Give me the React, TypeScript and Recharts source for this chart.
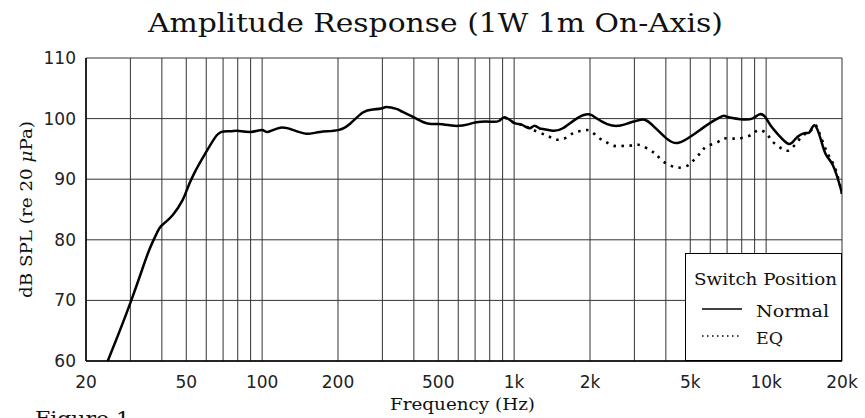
import React from 'react';
import { LineChart, Line, XAxis, YAxis, CartesianGrid, Legend, Label } from 'recharts';

// Normal switch position (Hz, dB SPL)
const NORMAL_FREQ = [
  24.4, 27, 30, 33.1, 35.7, 38.3, 40, 44.2, 48.4, 50, 53.8, 60, 64.6, 69, 75, 80, 90, 100, 105, 118,
  133, 150, 170, 200, 224, 251, 275, 300, 311, 341, 361, 400, 437, 469, 500, 555, 600, 650, 708, 800,
  870, 920, 1000, 1070, 1150, 1200, 1260, 1300, 1420, 1560, 1770, 1980, 2130, 2340, 2570, 2820, 3180,
  3480, 4030, 4490, 5000, 5500, 6000, 6700, 7000, 7900, 8800, 9400, 9900, 10400, 11200, 12300, 13100,
  14200, 14900, 15600, 16500, 17300, 18400, 19600, 20000,
];
const NORMAL_DB = [
  60, 64.6, 69.6, 74.6, 78.4, 81.2, 82.4, 84.1, 86.6, 88, 91, 94.5, 96.7, 97.8, 97.9, 98, 97.8, 98.1, 97.8, 98.5,
  98.1, 97.5, 97.8, 98.1, 99.2, 101, 101.5, 101.7, 101.9, 101.6, 101.1, 100.2, 99.4, 99.1, 99.1, 98.9, 98.8, 99, 99.4, 99.5,
  99.6, 100.2, 99.3, 99, 98.4, 98.8, 98.4, 98.3, 98, 98.4, 100, 100.7, 100, 99.1, 98.8, 99.2, 99.8,
  99.2, 96.7, 96, 97, 98.2, 99.3, 100.4, 100.3, 99.9, 100, 100.7, 100.3, 98.9, 97.3, 95.8, 96.7,
  97.6, 97.8, 98.9, 96.5, 94, 92.3, 89, 87.6,
];

// EQ switch position (same as Normal below ~1 kHz)
const EQ_FREQ = [
  920, 1000, 1070, 1150, 1260, 1380, 1490, 1620, 1730, 1870, 2000, 2160, 2320, 2500, 2730, 2980, 3180,
  3450, 3660, 3880, 4200, 4500, 4900, 5200, 5500, 5800, 6400, 6800, 7400, 8000, 8800, 9300, 10000,
  10500, 11200, 12000, 12700, 13500, 14200, 14900, 15600, 16200, 17300, 18100, 19000, 20000,
];
const EQ_DB = [
  100.2, 99.3, 99, 98.4, 97.7, 97, 96.5, 96.9, 97.7, 98, 98, 96.9, 96.1, 95.5, 95.5, 95.6, 95.6,
  94.8, 94.1, 93, 92.2, 91.9, 92.3, 93.3, 94.4, 95.4, 96.1, 96.7, 96.7, 96.8, 97.4, 98.1, 97.6,
  96.4, 95.4, 94.7, 95.2, 96.5, 97.4, 97.8, 98.9, 97.8, 94.8, 93.2, 91.2, 87.6,
];

const GRID_FREQS = [
  20, 30, 40, 50, 60, 70, 80, 90, 100, 200, 300, 400, 500, 600, 700, 800, 900,
  1000, 2000, 3000, 4000, 5000, 6000, 7000, 8000, 9000, 10000, 20000,
];
const FREQ_LABELS: { [f: number]: string } = {
  20: '20', 50: '50', 100: '100', 200: '200', 500: '500',
  1000: '1k', 2000: '2k', 5000: '5k', 10000: '10k', 20000: '20k',
};
const DB_TICKS = [60, 70, 80, 90, 100, 110];

const normalData = NORMAL_FREQ.map((f, i) => ({ f, db: NORMAL_DB[i] }));
const eqData = EQ_FREQ.map((f, i) => ({ f, db: EQ_DB[i] }));

const SERIF = '"DejaVu Serif", serif';
const TICK_FONT = '"DejaVu Sans", sans-serif';

const renderLegend = () => (
  <div style={{ width: 157, height: 108, boxSizing: 'border-box', border: '1.5px solid #000', background: '#fff' }}>
    <svg width={154} height={105} style={{ display: 'block' }}>
      <text x={8} y={31} fontFamily={SERIF} fontSize={16} textLength={143} lengthAdjust="spacingAndGlyphs" fill="#111">Switch Position</text>
      <line x1={16} x2={56} y1={55} y2={55} stroke="#000" strokeWidth={1.5} />
      <text x={70} y={63} fontFamily={SERIF} fontSize={16} textLength={73} lengthAdjust="spacingAndGlyphs" fill="#111">Normal</text>
      <line x1={16} x2={56} y1={82} y2={82} stroke="#000" strokeWidth={1.5} strokeDasharray="1.5 3.5" />
      <text x={70} y={90} fontFamily={SERIF} fontSize={16} textLength={27} lengthAdjust="spacingAndGlyphs" fill="#111">EQ</text>
    </svg>
  </div>
);

const renderYLabel = (props: any) => {
  const vb = props.viewBox;
  const x = vb.x + 32;
  const y = vb.y + vb.height / 2;
  return (
    <text x={x} y={y} transform={`rotate(-90, ${x}, ${y})`} textAnchor="middle" fontFamily={SERIF} fontSize={16}
      textLength={177} lengthAdjust="spacingAndGlyphs" fill="#111">
      dB SPL (re 20 <tspan fontStyle="italic">μ</tspan>Pa)
    </text>
  );
};

export default function App() {
  return (
    <div style={{ position: 'absolute', left: 0, top: 0, width: 865, height: 418, background: '#fff', overflow: 'hidden' }}>
      <svg width={865} height={418} style={{ position: 'absolute', left: 0, top: 0 }}>
        <text x={148} y={32} fontFamily={SERIF} fontSize={26} textLength={575} lengthAdjust="spacingAndGlyphs" fill="#111">
          Amplitude Response (1W 1m On-Axis)
        </text>
        <text x={35} y={426} fontFamily={SERIF} fontSize={20} textLength={95} lengthAdjust="spacingAndGlyphs" fill="#111">
          Figure 1
        </text>
      </svg>
      <LineChart width={865} height={418} margin={{ top: 58, right: 23, bottom: 0, left: 0 }} style={{ position: 'absolute', left: 0, top: 0 }}>
        <CartesianGrid stroke="#333" strokeWidth={1} />
        <XAxis
          dataKey="f"
          type="number"
          scale="log"
          domain={[20, 20000]}
          allowDataOverflow
          ticks={GRID_FREQS}
          interval={0}
          tickFormatter={(v: number) => FREQ_LABELS[v] ?? ''}
          tickLine={false}
          tickSize={0}
          tickMargin={15}
          axisLine={{ stroke: '#000', strokeWidth: 1.5 }}
          height={57}
          tick={{ fontFamily: TICK_FONT, fontSize: 17, fill: '#222' }}
        >
          <Label position="insideBottom" offset={8} content={(p: any) => {
            const vb = p.viewBox;
            return (
              <text x={390} y={vb.y + vb.height - 8} fontFamily={SERIF} fontSize={17} textLength={145}
                lengthAdjust="spacingAndGlyphs" fill="#111">Frequency (Hz)</text>
            );
          }} />
        </XAxis>
        <YAxis
          type="number"
          domain={[60, 110]}
          ticks={DB_TICKS}
          interval={0}
          tickLine={false}
          tickSize={0}
          tickMargin={10}
          width={86}
          axisLine={{ stroke: '#000', strokeWidth: 1.5 }}
          tick={{ fontFamily: TICK_FONT, fontSize: 17, fill: '#222' }}
          label={{ content: renderYLabel }}
        />
        <Legend content={renderLegend} layout="horizontal" verticalAlign="middle" align="center"
          wrapperStyle={{ left: 685, top: 253, width: 157, height: 108 }} />
        <Line data={eqData} dataKey="db" name="EQ" type="natural" stroke="#000" strokeWidth={2.6}
          strokeDasharray="2.5 5.5" dot={false} activeDot={false} isAnimationActive={false} />
        <Line data={normalData} dataKey="db" name="Normal" type="natural" stroke="#000" strokeWidth={2.5}
          dot={false} activeDot={false} isAnimationActive={false} />
      </LineChart>
    </div>
  );
}
